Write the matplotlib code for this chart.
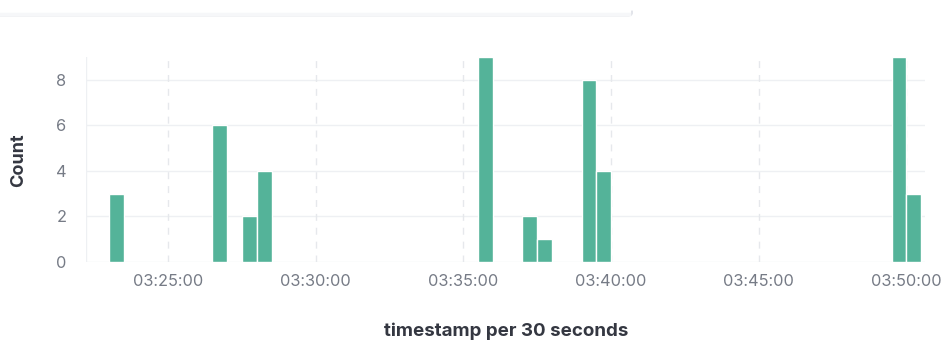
import matplotlib
matplotlib.use("Agg")
import matplotlib.pyplot as plt
import matplotlib.dates as mdates
from matplotlib.lines import Line2D
import pandas as pd

# Data: 30-second buckets and counts
bucket_times = ["03:23:00", "03:26:30", "03:27:30", "03:28:00", "03:35:30",
                "03:37:00", "03:37:30", "03:39:00", "03:39:30", "03:49:30", "03:50:00"]
counts = [3, 6, 2, 4, 9, 2, 1, 8, 4, 9, 3]
tick_labels = ["03:25:00", "03:30:00", "03:35:00", "03:40:00", "03:45:00", "03:50:00"]
y_ticks = [0, 2, 4, 6, 8]

day = "2024-01-01 "
times = pd.to_datetime([day + t for t in bucket_times])
ticks = pd.to_datetime([day + t for t in tick_labels])

plt.rcParams['font.family'] = ['Inter', 'DejaVu Sans']

fig = plt.figure(figsize=(9.44, 3.42), dpi=100)
ax = fig.add_axes([86/944, 1-262/342, (925-86)/944, (262-57)/342])

bar_w = 30 / 86400
ax.bar(mdates.date2num(times), counts, width=bar_w, align='edge',
       color='#54B399', edgecolor='white', linewidth=1.0, zorder=3)

xmin = mdates.date2num(pd.Timestamp(day + "03:22:13"))
xmax = mdates.date2num(pd.Timestamp(day + "03:50:38"))
ax.set_xlim(xmin, xmax)
ax.set_ylim(0, 9)

ax.set_xticks(mdates.date2num(ticks))
ax.set_xticklabels(tick_labels)
ax.set_yticks(y_ticks)
ax.set_yticklabels([str(v) for v in y_ticks])

for s in ax.spines.values():
    s.set_visible(False)
ax.axvline(xmin, color='#eef0f3', lw=1, zorder=1)

ax.tick_params(axis='both', length=0, colors='#767b86', labelsize=11.8)
ax.tick_params(axis='x', pad=9)
ax.tick_params(axis='y', pad=14)

for v in [0, 2, 4, 6, 8]:
    ax.axhline(v, color='#eef0f3', lw=1, zorder=1)
for t in mdates.date2num(ticks):
    ax.axvline(t, color='#e6e8ec', lw=1, ls=(0, (5, 5)), zorder=1)

fig.text(19/944, 1-160/342, "Count", rotation=90, ha='center', va='center',
         fontsize=13, fontweight='bold', color='#343741')
fig.text(506/944, 1-331/342, "timestamp per 30 seconds", ha='center', va='center',
         fontsize=13.5, fontweight='bold', color='#343741')

# Bottom edge of a panel above the chart (with a small corner hook)
W, H = 944, 342
px = [0, 629, 631, 632, 632]
py = [15.5, 15.5, 15.0, 13.5, 11.5]
fig.lines.append(Line2D([x / W for x in px], [1 - y / H for y in py],
                        transform=fig.transFigure, color='#dfe2e8', lw=1.3))
fig.lines.append(Line2D([0, 629 / W], [1 - 13.5 / H] * 2,
                        transform=fig.transFigure, color='#f6f7f9', lw=2.5))

fig.savefig("out.png", dpi=100)
